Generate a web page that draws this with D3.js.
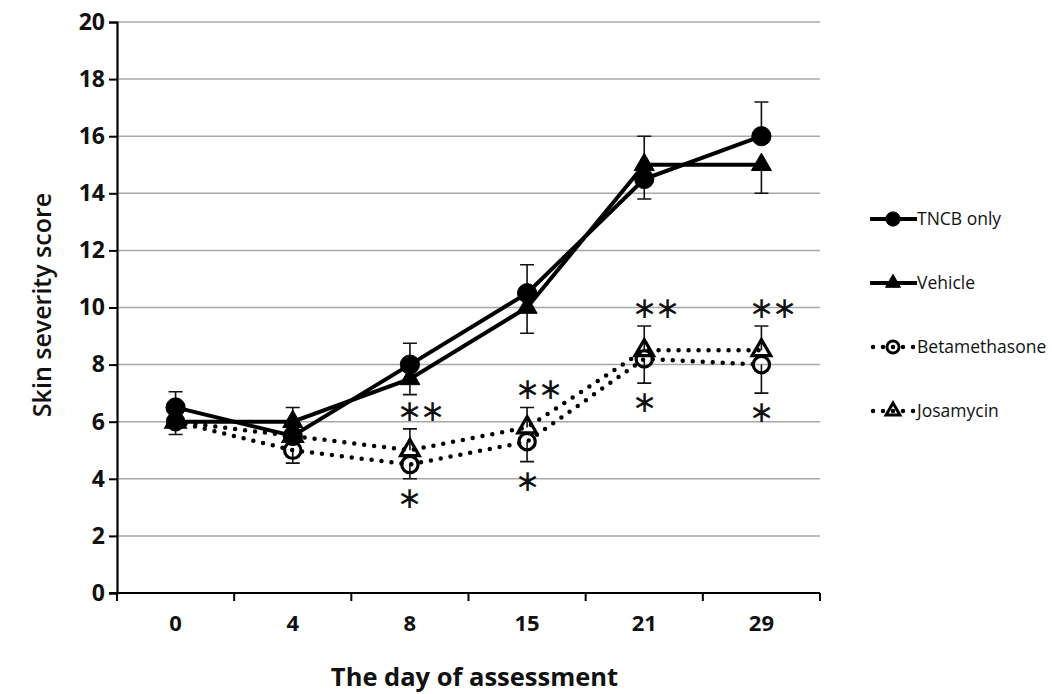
<!DOCTYPE html>
<html>
<head>
<meta charset="utf-8">
<script src="https://cdn.jsdelivr.net/npm/d3@7"></script>
<style>
  body { margin: 0; background: #fff; }
  svg { display: block; }
  text { font-family: "Open Sans", "Liberation Sans", sans-serif; }
</style>
</head>
<body>
<div id="chart"></div>
<script>
// ── DATA ───────────────────────────────────────────────────────
const days = ["0", "4", "8", "15", "21", "29"];

const tncb   = [6.5, 5.5, 8.0, 10.5, 14.5, 16.0];
const vehicle = [6.0, 6.0, 7.5, 10.0, 15.0, 15.0];
const betamethasone = [6.0, 5.0, 4.5, 5.3, 8.2, 8.0];
const josamycin = [6.0, 5.5, 5.0, 5.8, 8.5, 8.5];

// error bars drawn one way only (+ = up, - = down, null = none shown)
const tncbErr   = [0.55, null, 0.75, 1.0, -0.7, 1.2];
const vehicleErr = [-0.45, 0.5, -0.55, -0.9, 1.0, -1.0];
const betaErr   = [null, -0.45, -0.5, -0.7, -0.85, -1.0];
const josaErr   = [null, null, 0.75, 0.7, 0.85, 0.85];

const yTicks = [0, 2, 4, 6, 8, 10, 12, 14, 16, 18, 20];
const sigDays = ["8", "15", "21", "29"];   // ** over josamycin, * under betamethasone

const seriesNames = ["TNCB only", "Vehicle", "Betamethasone", "Josamycin"];

// ── DIMENSIONS ─────────────────────────────────────────────────
const W = 1052, H = 694;
const plot = { left: 117, right: 820, top: 22, bottom: 593 };

const svg = d3.select("#chart").append("svg")
  .attr("width", W).attr("height", H);

// ── SCALES ─────────────────────────────────────────────────────
const x = d3.scaleBand().domain(days).range([plot.left, plot.right]);
const y = d3.scaleLinear().domain([0, 20]).range([plot.bottom, plot.top]);
const cx = d => x(d) + x.bandwidth() / 2;

// ── GRID ───────────────────────────────────────────────────────
svg.append("g")
  .selectAll("line")
  .data(yTicks.filter(t => t > 0))
  .join("line")
    .attr("x1", plot.left).attr("x2", plot.right)
    .attr("y1", d => y(d)).attr("y2", d => y(d))
    .attr("stroke", "#a8a8a8").attr("stroke-width", 1.5);

// ── AXES ───────────────────────────────────────────────────────
const yAxis = svg.append("g")
  .attr("transform", `translate(${plot.left},0)`)
  .call(d3.axisLeft(y).tickValues(yTicks).tickSize(8).tickPadding(4));
yAxis.select(".domain").attr("stroke-width", 2.2);
yAxis.selectAll(".tick line").attr("stroke-width", 2);
yAxis.selectAll(".tick text")
  .attr("font-size", 23).attr("font-weight", "bold")
  .attr("font-family", "Open Sans").attr("fill", "#111");

const xAxis = svg.append("g")
  .attr("transform", `translate(0,${plot.bottom})`)
  .call(d3.axisBottom(x).tickSize(0).tickPadding(22));
xAxis.select(".domain").attr("stroke-width", 2.2)
  .attr("d", `M${plot.left - 8},0H${plot.right}`);
xAxis.selectAll(".tick text")
  .attr("font-size", 22).attr("font-weight", "bold")
  .attr("font-family", "Open Sans").attr("fill", "#111");

// boundary ticks between categories
svg.append("g")
  .selectAll("line")
  .data(days.map(d => x(d)).concat([plot.right]))
  .join("line")
    .attr("x1", d => d).attr("x2", d => d)
    .attr("y1", plot.bottom).attr("y2", plot.bottom + 8)
    .attr("stroke", "#000").attr("stroke-width", 2);

// axis titles
svg.append("text")
  .attr("x", (plot.left + plot.right) / 2 + 6)
  .attr("y", 686)
  .attr("text-anchor", "middle")
  .attr("font-size", 25.5).attr("font-weight", "bold")
  .attr("fill", "#111")
  .text("The day of assessment");

svg.append("text")
  .attr("transform", "rotate(-90)")
  .attr("x", -305).attr("y", 51)
  .attr("text-anchor", "middle")
  .attr("font-size", 25).attr("font-weight", 600)
  .attr("fill", "#111")
  .text("Skin severity score");

// ── SERIES ─────────────────────────────────────────────────────
const series = [
  { name: seriesNames[0], values: tncb, err: tncbErr, shape: d3.symbolCircle, size: 290, open: false, dotted: false },
  { name: seriesNames[1], values: vehicle, err: vehicleErr, shape: d3.symbolTriangle, size: 175, open: false, dotted: false },
  { name: seriesNames[2], values: betamethasone, err: betaErr, shape: d3.symbolCircle, size: 210, open: true, dotted: true },
  { name: seriesNames[3], values: josamycin, err: josaErr, shape: d3.symbolTriangle, size: 150, open: true, dotted: true }
];

const line = d3.line()
  .x((v, i) => cx(days[i]))
  .y(v => y(v));

// error bars
const errG = svg.append("g");
series.forEach(s => {
  const eb = s.values.map((v, i) => ({ day: days[i], v, e: s.err[i] })).filter(d => d.e !== null);
  errG.append("g").selectAll("path")
    .data(eb)
    .join("path")
      .attr("d", d => {
        const x0 = cx(d.day), y0 = y(d.v), y1 = y(d.v + d.e);
        return `M${x0},${y0}V${y1}M${x0 - 7},${y1}H${x0 + 7}`;
      })
      .attr("fill", "none").attr("stroke", "#111").attr("stroke-width", 1.6);
});

// lines
svg.append("g")
  .selectAll("path")
  .data(series)
  .join("path")
    .attr("d", s => line(s.values))
    .attr("fill", "none")
    .attr("stroke", "#000")
    .attr("stroke-width", s => s.dotted ? 4.5 : 4)
    .attr("stroke-linecap", s => s.dotted ? "round" : "butt")
    .attr("stroke-dasharray", s => s.dotted ? "0 10" : null);

// markers
series.forEach(s => {
  svg.append("g").selectAll("path")
    .data(s.values.map((v, i) => ({ day: days[i], v })))
    .join("path")
      .attr("transform", d => `translate(${cx(d.day)},${y(d.v)})`)
      .attr("d", d3.symbol(s.shape, s.size))
      .attr("fill", s.open ? "none" : "#000")
      .attr("stroke", "#000")
      .attr("stroke-width", s.open ? 3.2 : 1);
});

// significance marks
const starG = svg.append("g")
  .attr("font-family", "DejaVu Sans")
  .attr("font-size", 30)
  .attr("text-anchor", "middle")
  .attr("fill", "#111");
sigDays.forEach(d => {
  const i = days.indexOf(d);
  const top = y(josamycin[i] + josaErr[i]) - 18;
  const bot = y(betamethasone[i] + betaErr[i]) + 19;
  [0, 23].forEach(dx => {
    starG.append("text")
      .attr("x", cx(d) + dx).attr("y", top + 10)
      .text("∗");
  });
  starG.append("text")
    .attr("x", cx(d)).attr("y", bot + 10)
    .text("∗");
});

// ── LEGEND ─────────────────────────────────────────────────────
const legend = svg.append("g").attr("transform", "translate(870,219)");
series.forEach((s, i) => {
  const g = legend.append("g").attr("transform", `translate(0,${i * 64})`);
  g.append("line")
    .attr("x1", s.dotted ? 3 : 0).attr("x2", 47)
    .attr("stroke", "#000")
    .attr("stroke-width", s.dotted ? 4.5 : 4)
    .attr("stroke-linecap", s.dotted ? "round" : "butt")
    .attr("stroke-dasharray", s.dotted ? "0 10" : null);
  g.append("path")
    .attr("transform", "translate(23,0)")
    .attr("d", d3.symbol(s.shape, s.size * 0.55))
    .attr("fill", s.open ? "none" : "#000")
    .attr("stroke", "#000")
    .attr("stroke-width", s.open ? 3 : 1);
  g.append("text")
    .attr("x", 47).attr("y", 0)
    .attr("dy", "0.35em")
    .attr("font-size", 17.5)
    .attr("fill", "#111")
    .text(s.name);
});
</script>
</body>
</html>
